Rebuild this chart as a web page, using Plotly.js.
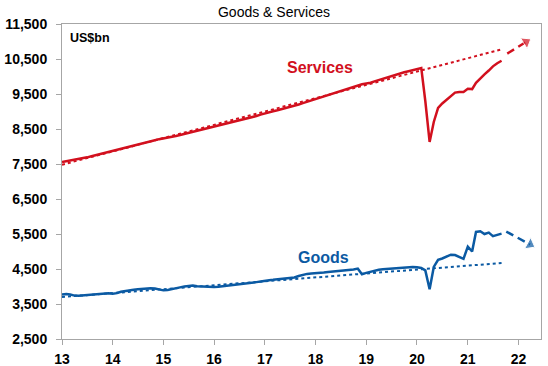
<!DOCTYPE html>
<html>
<head>
<meta charset="utf-8">
<script src="https://cdn.plot.ly/plotly-3.0.1.min.js"></script>
<style>html,body{margin:0;padding:0;background:#fff;}#chart{width:548px;height:366px;}</style>
</head>
<body>
<div id="chart"></div>
<script>
// Monthly data, Jan 2013 - Sep 2021 (US$bn)
const startYear = 2013;
const services = [
  7555, 7575, 7595, 7620, 7645, 7665, 7690, 7720, 7750, 7785, 7825, 7855,
  7880, 7895, 7930, 7960, 7990, 8020, 8050, 8080, 8110, 8140, 8180, 8210,
  8230, 8250, 8275, 8300, 8330, 8360, 8390, 8420, 8445, 8470, 8500, 8530,
  8570, 8600, 8620, 8660, 8690, 8720, 8750, 8780, 8810, 8840, 8870, 8910,
  8950, 8975, 9005, 9035, 9065, 9100, 9130, 9165, 9200, 9240, 9280, 9330,
  9370, 9400, 9440, 9480, 9520, 9560, 9600, 9640, 9680, 9720, 9760, 9780,
  9800, 9820, 9860, 9900, 9940, 9980, 10020, 10060, 10090, 10120, 10150, 10180,
  10210, 10240, 9300, 8130, 8700, 9100, 9230, 9330, 9450, 9540, 9560, 9560,
  9650, 9640, 9820, 9950, 10060, 10170, 10290, 10380, 10450
];
const goods = [
  3770, 3785, 3770, 3740, 3735, 3745, 3755, 3765, 3770, 3780, 3795, 3810,
  3790, 3810, 3850, 3875, 3890, 3910, 3920, 3935, 3945, 3950, 3945, 3920,
  3890, 3900, 3930, 3950, 3975, 4000, 4020, 4030, 4010, 4000, 3995, 3990,
  3985, 3995, 4010, 4030, 4050, 4060, 4070, 4080, 4095, 4110, 4125, 4140,
  4170, 4180, 4190, 4205, 4215, 4225, 4240, 4260, 4300, 4340, 4360, 4370,
  4375, 4380, 4400, 4415, 4425, 4435, 4445, 4455, 4470, 4485, 4510, 4350,
  4390, 4420, 4460, 4480, 4495, 4505, 4520, 4535, 4545, 4555, 4565, 4560,
  4550, 4530, 4460, 3920, 4560, 4760, 4800, 4850, 4910, 4900, 4850, 4790,
  5140, 5000, 5560, 5580, 5500, 5540, 5440, 5480, 5510
];
// Pre-COVID trend lines (endpoints)
const trendDates = ['2013-01-01', '2021-09-01'];
const servicesTrend = [7480, 10775];
const goodsTrend = [3700, 4670];
// Forecast arrows
const servicesFcDates = ['2021-10-12', '2022-02-25'];
const servicesFc = [10655, 10990];
const goodsFcDates = ['2021-10-05', '2022-03-25'];
const goodsFc = [5570, 5200];
const yTicks = [2500, 3500, 4500, 5500, 6500, 7500, 8500, 9500, 10500, 11500];

const dates = services.map((_, i) => {
  const y = startYear + Math.floor(i / 12);
  const m = (i % 12) + 1;
  return y + '-' + String(m).padStart(2, '0') + '-01';
});

const RED = '#D2101E';
const BLUE = '#0B5AA3';

const traces = [
  {x: trendDates, y: servicesTrend, mode: 'lines', line: {color: RED, width: 2, dash: 'dot'}},
  {x: trendDates, y: goodsTrend, mode: 'lines', line: {color: BLUE, width: 2, dash: 'dot'}},
  {x: dates, y: services, mode: 'lines', line: {color: RED, width: 2.5}},
  {x: dates, y: goods, mode: 'lines', line: {color: BLUE, width: 2.5}},
  {x: servicesFcDates, y: servicesFc, mode: 'lines+markers',
   line: {color: RED, width: 2.5, dash: '8px,5px'},
   marker: {symbol: 'triangle-up', angleref: 'previous', size: [0, 11], color: RED}},
  {x: goodsFcDates, y: goodsFc, mode: 'lines+markers',
   line: {color: BLUE, width: 2.5, dash: '8px,5px'},
   marker: {symbol: 'triangle-up', angleref: 'previous', size: [0, 11], color: BLUE}}
];

const tickFont = {family: 'Liberation Sans, Arial, sans-serif', size: 14, color: '#000', weight: 'bold'};

const layout = {
  width: 548, height: 366,
  margin: {l: 62, r: 7, t: 24, b: 27},
  paper_bgcolor: '#fff', plot_bgcolor: '#fff',
  showlegend: false,
  title: {text: 'Goods &amp; Services', font: {family: 'Liberation Sans, Arial, sans-serif', size: 14, color: '#000'},
          x: 0.5, xanchor: 'center', y: 1 - 12 / 366, yref: 'container', yanchor: 'middle'},
  xaxis: {
    type: 'date', range: ['2013-01-01', '2022-06-12'],
    tickmode: 'array',
    tickvals: ['2013-01-01','2014-01-01','2015-01-01','2016-01-01','2017-01-01','2018-01-01','2019-01-01','2020-01-01','2021-01-01','2022-01-01'],
    ticktext: ['13','14','15','16','17','18','19','20','21','22'],
    showgrid: false, zeroline: false,
    showline: true, linecolor: '#A6A6A6', linewidth: 1, mirror: true,
    ticks: 'outside', ticklen: 5, tickcolor: '#A6A6A6',
    tickfont: tickFont, ticklabelstandoff: 2
  },
  yaxis: {
    range: [2500, 11500], tickvals: yTicks, tickformat: ',d',
    showgrid: false, zeroline: false,
    showline: true, linecolor: '#A6A6A6', linewidth: 1, mirror: true,
    ticks: 'outside', ticklen: 5, tickcolor: '#A6A6A6',
    tickfont: tickFont, ticklabelstandoff: 6
  },
  annotations: [
    {xref: 'paper', yref: 'paper', x: 0.012, y: 0.955, xanchor: 'left', yanchor: 'middle', showarrow: false,
     text: '<b>US$bn</b>', font: {family: 'Liberation Sans, Arial, sans-serif', size: 12.5, color: '#000'}},
    {x: '2018-02-05', y: 10250, showarrow: false, text: '<b>Services</b>',
     font: {family: 'Liberation Sans, Arial, sans-serif', size: 16, color: RED}},
    {x: '2018-03-01', y: 4830, showarrow: false, text: '<b>Goods</b>',
     font: {family: 'Liberation Sans, Arial, sans-serif', size: 16, color: BLUE}}
  ]
};

Plotly.newPlot('chart', traces, layout, {displayModeBar: false, staticPlot: true});
</script>
</body>
</html>
